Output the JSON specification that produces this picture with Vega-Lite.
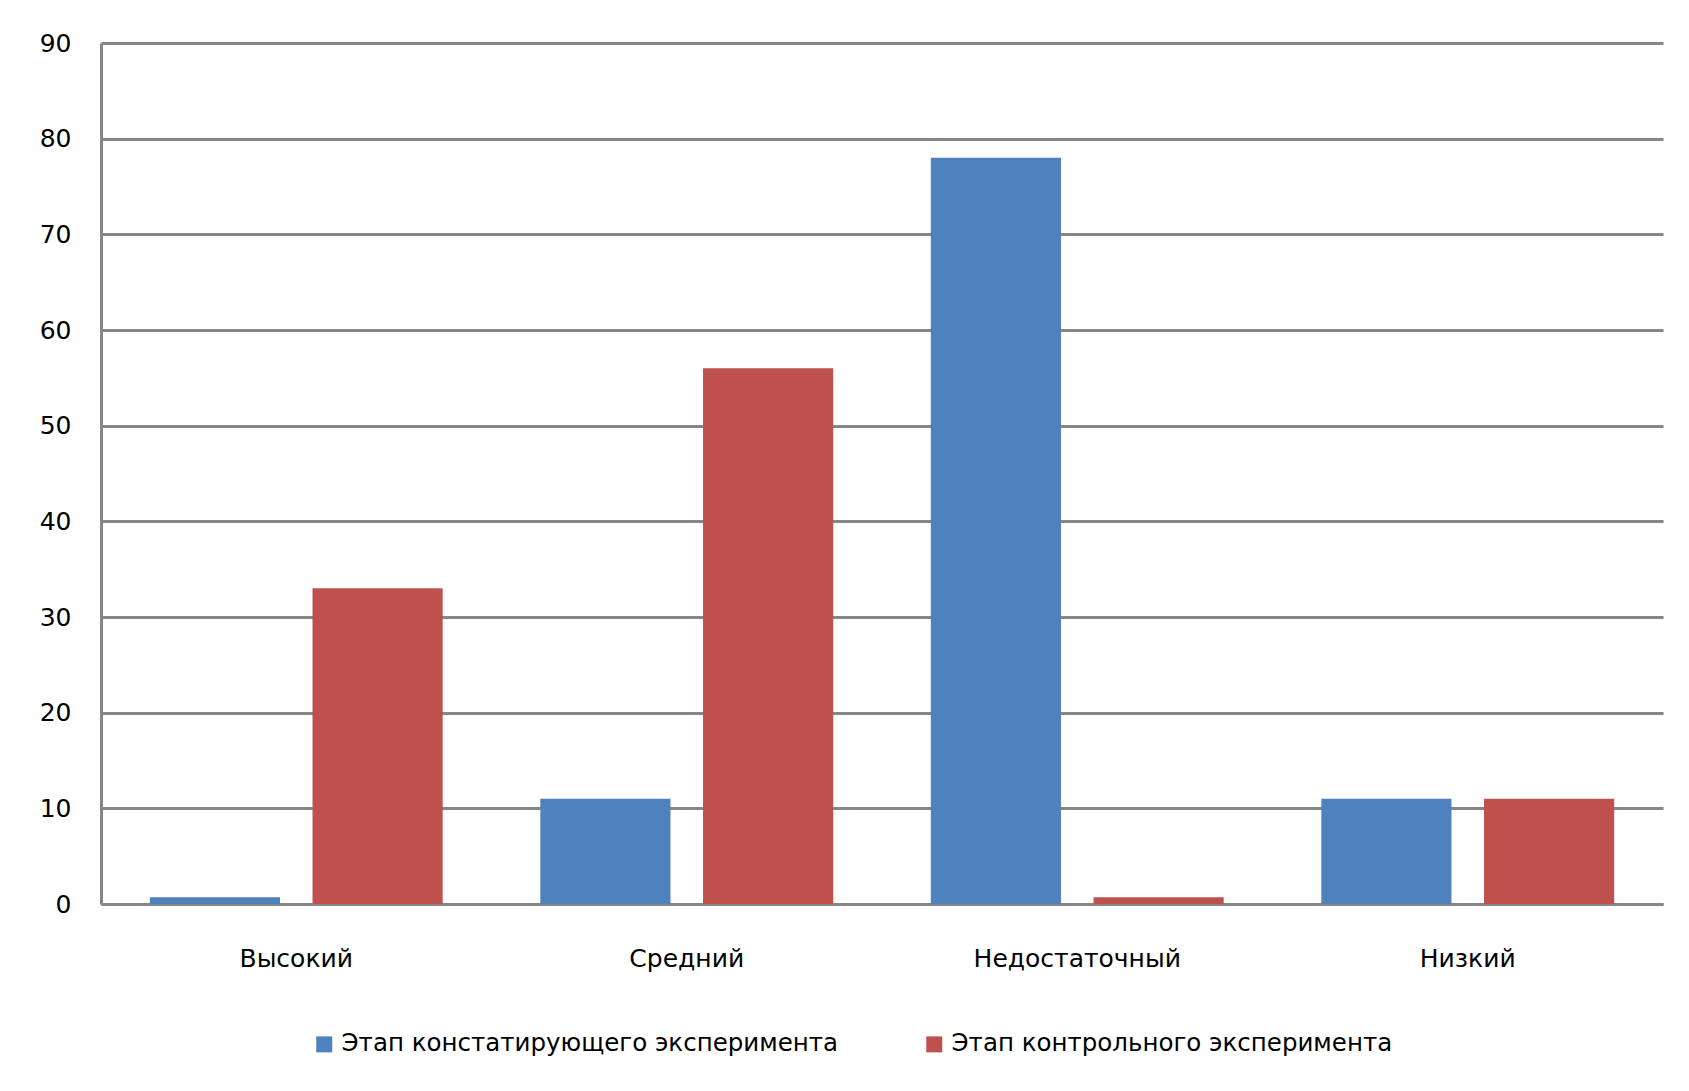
{
  "$schema": "https://vega.github.io/schema/vega-lite/v6.json",
  "autosize": {"type": "none"},
  "padding": {"left": 101, "top": 43, "right": 26, "bottom": 187},
  "width": 1562,
  "height": 861,
  "background": "white",
  "data": {
    "values": [
      {"level": "Высокий", "stage": "Этап констатирующего эксперимента", "value": 0.7},
      {"level": "Высокий", "stage": "Этап контрольного эксперимента", "value": 33},
      {"level": "Средний", "stage": "Этап констатирующего эксперимента", "value": 11},
      {"level": "Средний", "stage": "Этап контрольного эксперимента", "value": 56},
      {"level": "Недостаточный", "stage": "Этап констатирующего эксперимента", "value": 78},
      {"level": "Недостаточный", "stage": "Этап контрольного эксперимента", "value": 0.7},
      {"level": "Низкий", "stage": "Этап констатирующего эксперимента", "value": 11},
      {"level": "Низкий", "stage": "Этап контрольного эксперимента", "value": 11}
    ]
  },
  "mark": {"type": "bar"},
  "encoding": {
    "x": {
      "field": "level",
      "type": "nominal",
      "sort": ["Высокий", "Средний", "Недостаточный", "Низкий"],
      "scale": {"paddingInner": 0.25, "paddingOuter": 0.125},
      "axis": {
        "title": null,
        "labelAngle": 0,
        "ticks": false,
        "labelPadding": 42,
        "labelFontSize": 25,
        "labelFont": "DejaVu Sans",
        "labelColor": "#000000",
        "labelLimit": 0,
        "domainColor": "#868686",
        "domainWidth": 3,
        "grid": false
      }
    },
    "xOffset": {
      "field": "stage",
      "type": "nominal",
      "sort": ["Этап констатирующего эксперимента", "Этап контрольного эксперимента"],
      "scale": {"paddingInner": 0.2, "paddingOuter": 0}
    },
    "y": {
      "field": "value",
      "type": "quantitative",
      "scale": {"domain": [0, 90], "nice": false},
      "axis": {
        "title": null,
        "values": [0, 10, 20, 30, 40, 50, 60, 70, 80, 90],
        "ticks": false,
        "labelPadding": 30,
        "labelFontSize": 25,
        "labelFont": "DejaVu Sans",
        "labelColor": "#000000",
        "domainColor": "#868686",
        "domainWidth": 3,
        "grid": true,
        "gridColor": "#868686",
        "gridWidth": 3,
        "gridOpacity": 1
      }
    },
    "color": {
      "field": "stage",
      "type": "nominal",
      "sort": ["Этап констатирующего эксперимента", "Этап контрольного эксперимента"],
      "scale": {"range": ["#4F81BD", "#C0504D"]},
      "legend": {
        "title": null,
        "orient": "none",
        "direction": "horizontal",
        "legendX": 211,
        "legendY": 989,
        "symbolType": "square",
        "symbolSize": 256,
        "symbolStrokeWidth": 0,
        "labelFontSize": 24.5,
        "labelFont": "DejaVu Sans",
        "labelColor": "#000000",
        "labelOffset": 5,
        "columnPadding": 83,
        "labelLimit": 800
      }
    }
  },
  "config": {"view": {"stroke": null}}
}
